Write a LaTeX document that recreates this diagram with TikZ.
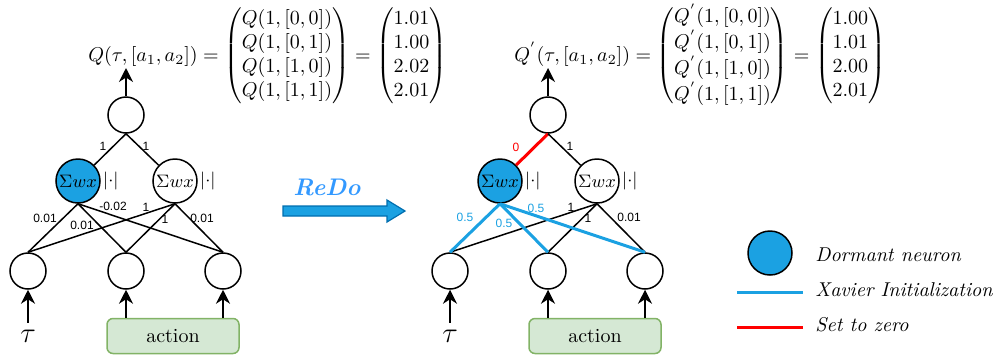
\documentclass[tikz,border=0pt]{standalone}
\usepackage{amsmath,amssymb}
\usepackage{fontspec}
\usepackage{tikz}
\usetikzlibrary{positioning,arrows.meta}
\newfontfamily\wfont{Liberation Sans}
\definecolor{dormblue}{HTML}{1BA1E2}
\definecolor{redoblue}{HTML}{3399FF}
\definecolor{redoedge}{HTML}{006EAF}
\definecolor{actfill}{HTML}{D5E8D4}
\definecolor{actdraw}{HTML}{82B366}

\begin{document}
\begin{tikzpicture}[
  x=0.5pt, y=-0.5pt,
  neuron/.style={circle, draw, line width=0.75pt, minimum size=18pt, inner sep=0pt},
  hidden/.style={neuron, minimum size=22pt, font=\small},
  dormant/.style={hidden, fill=dormblue},
  absval/.style={inner sep=1pt, font=\small},
  conn/.style={line width=0.75pt},
  xavier/.style={line width=1.5pt, draw=dormblue},
  zero/.style={line width=1.5pt, draw=red},
  arrow/.style={-{Stealth[length=7pt,width=7pt]}, line width=0.75pt},
  wlab/.style={font=\wfont\fontsize{6}{7}\selectfont, inner sep=0pt},
  actbox/.style={rectangle, rounded corners=3pt, draw=actdraw, fill=actfill, line width=0.75pt, minimum width=66pt, minimum height=17.5pt},
  legtext/.style={font=\itshape, anchor=west, inner sep=0pt}
]
  \useasboundingbox (0,0) rectangle (995,360);

  % Left network (before ReDo)
  \node[neuron] (lout) at (126,115) {};
  \node[dormant] (lh1) at (78,181) {$\Sigma wx$};
  \node[hidden] (lh2) at (175,181) {$\Sigma wx$};
  \node[absval, right=0pt of lh1] (labs1) {$|{\cdot}|$};
  \node[absval, right=0pt of lh2] (labs2) {$|{\cdot}|$};
  \node[neuron] (li1) at (28,271) {};
  \node[neuron] (li2) at (126,271) {};
  \node[neuron] (li3) at (223,271) {};
  \node (ltau) at (28,336) {\Large $\tau$};
  \node[actbox] (lact) at (173,336) {action};
  \node[anchor=west, inner sep=0pt] (leq) at (88,56) {$Q(\tau,[a_1,a_2]) = \begin{pmatrix} Q(1,[0,0])\\ Q(1,[0,1])\\ Q(1,[1,0])\\ Q(1,[1,1]) \end{pmatrix} = \begin{pmatrix} 1.01\\ 1.00\\ 2.02\\ 2.01 \end{pmatrix}$};
  \coordinate (lq) at (126,68);

  \draw[arrow] (lout) -- (lq);
  \draw[conn] (lout.south) -- (lh1);
  \draw[conn] (lout.south) -- (lh2);
  \foreach \i in {1,2,3}
    \foreach \h in {1,2}
      \draw[conn] (li\i.north) -- (lh\h.south);
  \draw[arrow] (ltau) -- (li1);
  \draw[arrow] (lact.north -| li2) -- (li2);
  \draw[arrow] (lact.north -| li3) -- (li3);

  \node[wlab] (lw1) at (103,146) {1};
  \node[wlab] (lw2) at (146,146) {1};
  \node[wlab] (lw11) at (45,218) {0.01};
  \node[wlab] (lw12) at (82,225) {0.01};
  \node[wlab] (lw13) at (113,206) {-0.02};
  \node[wlab] (lw21) at (146,207) {1};
  \node[wlab] (lw22) at (165,219) {1};
  \node[wlab] (lw23) at (202,218) {0.01};

  % ReDo arrow
  \node[font=\large\bfseries\itshape, text=redoblue] (redo) at (327,187) {ReDo};
  \draw[fill=dormblue, draw=redoedge, line width=0.6pt] (283,206) -- (387,206) -- (387,200) -- (405,211) -- (387,222) -- (387,216) -- (283,216) -- cycle;

  % Right network (after ReDo)
  \node[neuron] (rout) at (548,115) {};
  \node[dormant] (rh1) at (500,181) {$\Sigma wx$};
  \node[hidden] (rh2) at (597,181) {$\Sigma wx$};
  \node[absval, right=0pt of rh1] (rabs1) {$|{\cdot}|$};
  \node[absval, right=0pt of rh2] (rabs2) {$|{\cdot}|$};
  \node[neuron] (ri1) at (450,271) {};
  \node[neuron] (ri2) at (548,271) {};
  \node[neuron] (ri3) at (645,271) {};
  \node (rtau) at (450,336) {\Large $\tau$};
  \node[actbox] (ract) at (595,336) {action};
  \node[anchor=west, inner sep=0pt] (req) at (514,56) {$Q^{'}(\tau,[a_1,a_2]) = \begin{pmatrix} Q^{'}(1,[0,0])\\ Q^{'}(1,[0,1])\\ Q^{'}(1,[1,0])\\ Q^{'}(1,[1,1]) \end{pmatrix} = \begin{pmatrix} 1.00\\ 1.01\\ 2.00\\ 2.01 \end{pmatrix}$};
  \coordinate (rq) at (548,68);

  \draw[arrow] (rout) -- (rq);
  \draw[zero] (rout.south) -- (rh1);
  \draw[conn] (rout.south) -- (rh2);
  \foreach \i in {1,2,3}
    \draw[conn] (ri\i.north) -- (rh2.south);
  \foreach \i in {1,2,3}
    \draw[xavier] (ri\i.north) -- (rh1.south);
  \draw[arrow] (rtau) -- (ri1);
  \draw[arrow] (ract.north -| ri2) -- (ri2);
  \draw[arrow] (ract.north -| ri3) -- (ri3);

  \node[wlab, text=red] (rw1) at (516,147) {0};
  \node[wlab] (rw2) at (570,146) {1};
  \node[wlab, text=dormblue] (rw11) at (465,217) {0.5};
  \node[wlab, text=dormblue] (rw12) at (504,223) {0.5};
  \node[wlab, text=dormblue] (rw13) at (536,208) {0.5};
  \node[wlab] (rw21) at (571,207) {1};
  \node[wlab] (rw22) at (588,218) {1};
  \node[wlab] (rw23) at (629,217) {0.01};

  % Legend
  \node[dormant] (legdorm) at (770,253) {};
  \node[legtext] (legdormtxt) at (815,255) {Dormant neuron};
  \coordinate (legxa) at (737,292);
  \coordinate (legxb) at (803,292);
  \draw[xavier] (legxa) -- (legxb);
  \node[legtext] (legxtxt) at (815,290) {Xavier Initialization};
  \coordinate (legza) at (737,327);
  \coordinate (legzb) at (803,327);
  \draw[zero] (legza) -- (legzb);
  \node[legtext] (legztxt) at (815,325) {Set to zero};
\end{tikzpicture}
\end{document}
